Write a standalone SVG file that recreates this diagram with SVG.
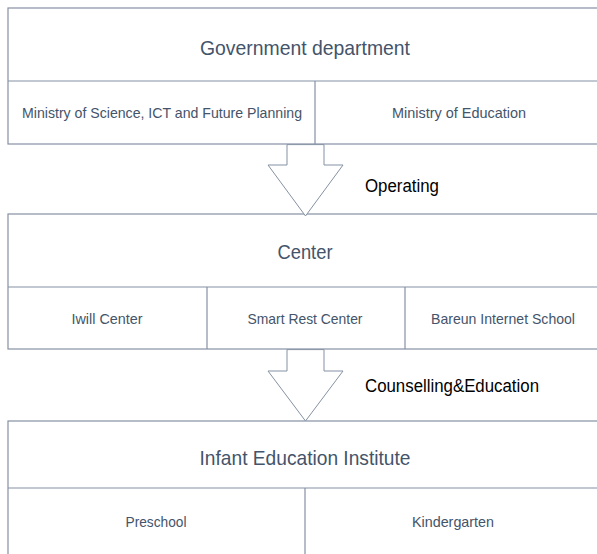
<svg xmlns="http://www.w3.org/2000/svg" width="597" height="554" viewBox="0 0 597 554">
<style>
.box{fill:#ffffff;stroke:#8591a3;stroke-width:1.2}
.ln{stroke:#8591a3;stroke-width:1.2;fill:none}
.arr{fill:#ffffff;stroke:#8591a3;stroke-width:1}
.t{font-family:"Liberation Sans","Noto Sans",sans-serif;fill:#44546a;text-anchor:middle}
.h{font-size:21px}
.s{font-size:14.5px}
.lab{font-family:"Liberation Sans","Noto Sans",sans-serif;font-size:17.5px;fill:#000000}
</style>
<rect width="597" height="554" fill="#ffffff"/>
<g id="government">
<rect class="box" x="8" y="8" width="600" height="136"/>
<line class="ln" x1="8" y1="81" x2="600" y2="81"/>
<line class="ln" x1="315" y1="81" x2="315" y2="144"/>
<text class="t h" x="305" y="55" textLength="210" lengthAdjust="spacingAndGlyphs">Government department</text>
<text class="t s" x="162" y="118" textLength="280" lengthAdjust="spacingAndGlyphs">Ministry of Science, ICT and Future Planning</text>
<text class="t s" x="459" y="118" textLength="134" lengthAdjust="spacingAndGlyphs">Ministry of Education</text>
</g>
<g id="center">
<rect class="box" x="8" y="214" width="600" height="135"/>
<line class="ln" x1="8" y1="287" x2="600" y2="287"/>
<line class="ln" x1="207" y1="287" x2="207" y2="349"/>
<line class="ln" x1="405" y1="287" x2="405" y2="349"/>
<text class="t h" x="305" y="259" textLength="55" lengthAdjust="spacingAndGlyphs">Center</text>
<text class="t s" x="107" y="324" textLength="71" lengthAdjust="spacingAndGlyphs">Iwill Center</text>
<text class="t s" x="305" y="324" textLength="115" lengthAdjust="spacingAndGlyphs">Smart Rest Center</text>
<text class="t s" x="503" y="324" textLength="144" lengthAdjust="spacingAndGlyphs">Bareun Internet School</text>
</g>
<g id="infant">
<rect class="box" x="8" y="421" width="600" height="150"/>
<line class="ln" x1="8" y1="488" x2="600" y2="488"/>
<line class="ln" x1="305" y1="488" x2="305" y2="571"/>
<text class="t h" x="305" y="465" textLength="211" lengthAdjust="spacingAndGlyphs">Infant Education Institute</text>
<text class="t s" x="156" y="527" textLength="61" lengthAdjust="spacingAndGlyphs">Preschool</text>
<text class="t s" x="453" y="527" textLength="82" lengthAdjust="spacingAndGlyphs">Kindergarten</text>
</g>
<g id="connectors">
<polygon class="arr" points="287,144.6 287,165 268,165 305.5,216 343,165 324,165 324,144.6"/>
<text class="lab" x="365" y="192" textLength="74" lengthAdjust="spacingAndGlyphs">Operating</text>
<polygon class="arr" points="287,349.6 287,371 268,371 305.5,421 343,371 324,371 324,349.6"/>
<text class="lab" x="365" y="392" textLength="174" lengthAdjust="spacingAndGlyphs">Counselling&amp;Education</text>
</g>
</svg>
